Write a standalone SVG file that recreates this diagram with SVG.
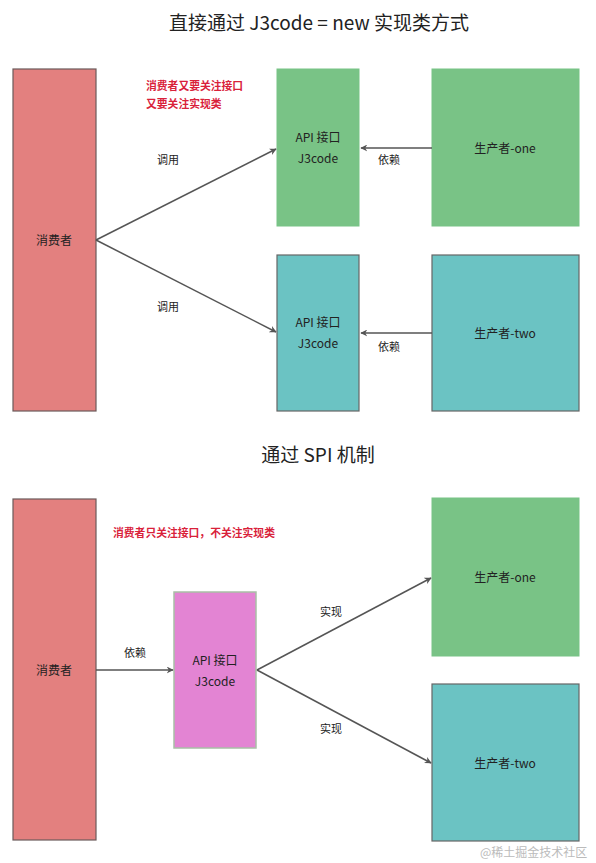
<svg xmlns="http://www.w3.org/2000/svg" width="596" height="863" viewBox="0 0 596 863">
<style>
text{font-family:"Noto Sans CJK SC","Noto Sans",sans-serif;fill:#222;}
.title{font-size:19px;text-anchor:middle;fill:#222;}
.lbl{font-size:11px;text-anchor:middle;}
.box{font-size:12px;text-anchor:middle;}
.red{font-size:10.8px;font-weight:bold;fill:#d9213a;}
.cons{fill:#e3807f;stroke:#6b5a5a;stroke-width:1.2;}
.green{fill:#79c386;stroke:#79c386;stroke-width:1;}
.teal{fill:#6bc3c3;stroke:#666;stroke-width:1.2;}
.pink{fill:#e384d3;stroke:#a9bfa6;stroke-width:1.5;}
.edge{stroke:#555;stroke-width:1.5;fill:none;marker-end:url(#ah);}
</style>
<defs>
<marker id="ah" viewBox="0 0 10 10" refX="9" refY="5" markerWidth="7" markerHeight="7" markerUnits="userSpaceOnUse" orient="auto">
<path d="M0,0 L10,5 L0,10 L3,5 Z" fill="#555"/>
</marker>
</defs>
<rect width="596" height="863" fill="#fff"/>
<text class="title" x="319" y="30">直接通过 J3code = new 实现类方式</text>
<text class="title" x="318" y="462">通过 SPI 机制</text>

<g id="consumer1"><rect class="cons" x="13" y="69" width="83" height="342"/><text class="box" x="54" y="245">消费者</text></g>
<g id="api1"><rect class="green" x="277" y="69" width="82" height="157"/><text class="box" x="318" y="142">API 接口</text><text class="box" x="318" y="163">J3code</text></g>
<g id="prodone1"><rect class="green" x="432" y="69" width="147" height="157"/><text class="box" x="505" y="153">生产者-one</text></g>
<g id="api2"><rect class="teal" x="277" y="255" width="82" height="156"/><text class="box" x="318" y="327">API 接口</text><text class="box" x="318" y="348">J3code</text></g>
<g id="prodtwo1"><rect class="teal" x="432" y="255" width="147" height="156"/><text class="box" x="505" y="338">生产者-two</text></g>
<g id="note1"><text class="red" x="146" y="90">消费者又要关注接口</text><text class="red" x="146" y="108">又要关注实现类</text></g>

<g id="consumer2"><rect class="cons" x="13" y="499" width="83" height="341"/><text class="box" x="54" y="675">消费者</text></g>
<g id="api3"><rect class="pink" x="174" y="592" width="82" height="156"/><text class="box" x="215" y="665">API 接口</text><text class="box" x="215" y="686">J3code</text></g>
<g id="prodone2"><rect class="green" x="432" y="498" width="147" height="158"/><text class="box" x="505" y="582">生产者-one</text></g>
<g id="prodtwo2"><rect class="teal" x="432" y="684" width="147" height="157"/><text class="box" x="505" y="768">生产者-two</text></g>
<g id="note2"><text class="red" x="113" y="537">消费者只关注接口，不关注实现类</text></g>

<g id="connectors">
<line class="edge" x1="96" y1="240" x2="276" y2="149"/>
<line class="edge" x1="96" y1="240" x2="276" y2="332"/>
<line class="edge" x1="432" y1="148" x2="361" y2="148"/>
<line class="edge" x1="432" y1="333" x2="361" y2="333"/>
<line class="edge" x1="96" y1="670" x2="173" y2="670"/>
<line class="edge" x1="257" y1="670" x2="431" y2="578"/>
<line class="edge" x1="257" y1="670" x2="431" y2="763"/>
<text class="lbl" x="168" y="164">调用</text>
<text class="lbl" x="168" y="311">调用</text>
<text class="lbl" x="389" y="164">依赖</text>
<text class="lbl" x="389" y="351">依赖</text>
<text class="lbl" x="135" y="657">依赖</text>
<text class="lbl" x="331" y="616">实现</text>
<text class="lbl" x="331" y="733">实现</text>
</g>
<text x="480" y="857" style="font-size:12px;fill:#bbb;">@稀土掘金技术社区</text>
</svg>
